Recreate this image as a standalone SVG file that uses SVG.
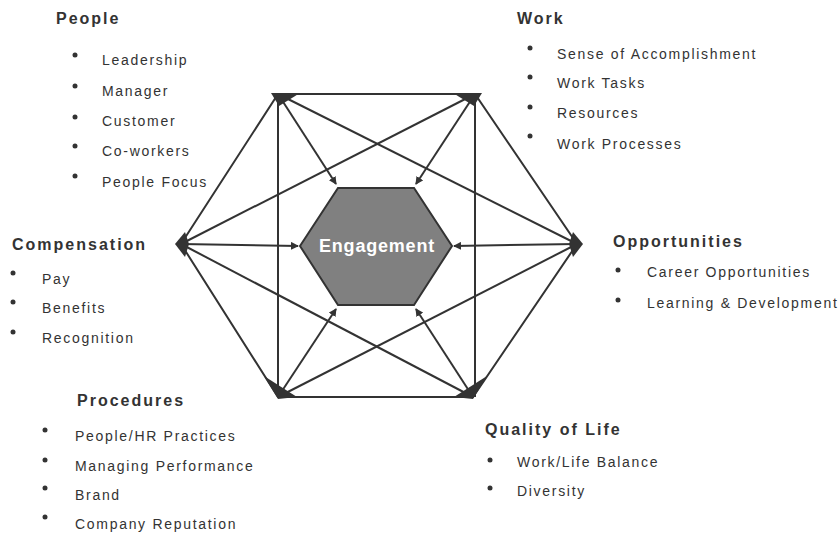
<svg xmlns="http://www.w3.org/2000/svg" width="840" height="533" viewBox="0 0 840 533">
<style>
.t{font-family:"Liberation Sans",Arial,sans-serif;font-weight:bold;font-size:16px;fill:#333;letter-spacing:2px}
.i{font-family:"Liberation Sans",Arial,sans-serif;font-size:14px;fill:#333;letter-spacing:1.7px}
.b{fill:#333}
.ln{stroke:#333;stroke-width:2;fill:none}
.ar{stroke:#333;stroke-width:2;fill:none;marker-end:url(#ah)}
.v{fill:#333}
</style>
<defs>
<marker id="ah" markerWidth="8" markerHeight="8" refX="7" refY="4" orient="auto" markerUnits="userSpaceOnUse">
<path d="M0,0 L8,4 L0,8 Z" fill="#333"/>
</marker>
</defs>
<rect width="840" height="533" fill="#fff"/>
<g id="connectors">
<polygon class="ln" points="278,94 475,94 577,244 473,397 278,397 181,244"/>
<line class="ln" x1="278" y1="94" x2="278" y2="397"/>
<line class="ln" x1="475" y1="94" x2="475" y2="397"/>
<line class="ln" x1="278" y1="94" x2="577" y2="244"/>
<line class="ln" x1="475" y1="94" x2="181" y2="244"/>
<line class="ln" x1="278" y1="397" x2="577" y2="244"/>
<line class="ln" x1="473" y1="397" x2="181" y2="244"/>
<line class="ar" x1="278" y1="94" x2="336" y2="184"/>
<line class="ar" x1="475" y1="94" x2="416" y2="184"/>
<line class="ar" x1="181" y1="244" x2="298" y2="246"/>
<line class="ar" x1="577" y1="244" x2="454" y2="246"/>
<line class="ar" x1="278" y1="397" x2="336" y2="309"/>
<line class="ar" x1="473" y1="397" x2="416" y2="309"/>
</g>
<g id="engagement">
<polygon points="300,246 338,188 414,188 452,246 414,305 338,305" fill="#808080" stroke="#333" stroke-width="2"/>
<text x="377" y="252" text-anchor="middle" font-family="Liberation Sans,Arial,sans-serif" font-weight="bold" font-size="18" fill="#fff" letter-spacing="0.8">Engagement</text>
</g>
<g id="people">
<polygon class="v" points="271,93 300,93 279,106"/>
<text class="t" x="56" y="24">People</text>
<circle class="b" cx="75" cy="55" r="2.5"/><text class="i" x="102" y="65">Leadership</text>
<circle class="b" cx="75" cy="86" r="2.5"/><text class="i" x="102" y="96">Manager</text>
<circle class="b" cx="75" cy="117" r="2.5"/><text class="i" x="102" y="126">Customer</text>
<circle class="b" cx="75" cy="146" r="2.5"/><text class="i" x="102" y="156">Co-workers</text>
<circle class="b" cx="75" cy="176" r="2.5"/><text class="i" x="102" y="187">People Focus</text>
</g>
<g id="work">
<polygon class="v" points="453,93 482,93 474,106"/>
<text class="t" x="517" y="24">Work</text>
<circle class="b" cx="530" cy="48" r="2.5"/><text class="i" x="557" y="59">Sense of Accomplishment</text>
<circle class="b" cx="530" cy="77" r="2.5"/><text class="i" x="557" y="88">Work Tasks</text>
<circle class="b" cx="530" cy="107" r="2.5"/><text class="i" x="557" y="118">Resources</text>
<circle class="b" cx="530" cy="136" r="2.5"/><text class="i" x="557" y="149">Work Processes</text>
</g>
<g id="compensation">
<polygon class="v" points="175,244 185,232 189,244 185,257"/>
<text class="t" x="12" y="250">Compensation</text>
<circle class="b" cx="13" cy="273" r="2.5"/><text class="i" x="42" y="284">Pay</text>
<circle class="b" cx="13" cy="302" r="2.5"/><text class="i" x="42" y="313">Benefits</text>
<circle class="b" cx="13" cy="332" r="2.5"/><text class="i" x="42" y="343">Recognition</text>
</g>
<g id="opportunities">
<polygon class="v" points="583,244 573,232 569,244 573,257"/>
<text class="t" x="613" y="247">Opportunities</text>
<circle class="b" cx="618" cy="270" r="2.5"/><text class="i" x="647" y="277">Career Opportunities</text>
<circle class="b" cx="618" cy="300" r="2.5"/><text class="i" x="647" y="308">Learning &amp; Development</text>
</g>
<g id="procedures">
<polygon class="v" points="264,376 278,399 297,397"/>
<text class="t" x="77" y="406">Procedures</text>
<circle class="b" cx="45" cy="430" r="2.5"/><text class="i" x="75" y="441">People/HR Practices</text>
<circle class="b" cx="45" cy="460" r="2.5"/><text class="i" x="75" y="471">Managing Performance</text>
<circle class="b" cx="45" cy="488" r="2.5"/><text class="i" x="75" y="500">Brand</text>
<circle class="b" cx="45" cy="517" r="2.5"/><text class="i" x="75" y="529">Company Reputation</text>
</g>
<g id="quality">
<polygon class="v" points="487,376 473,399 454,397"/>
<text class="t" x="485" y="435">Quality of Life</text>
<circle class="b" cx="490" cy="460" r="2.5"/><text class="i" x="517" y="467">Work/Life Balance</text>
<circle class="b" cx="490" cy="488" r="2.5"/><text class="i" x="517" y="496">Diversity</text>
</g>
</svg>
